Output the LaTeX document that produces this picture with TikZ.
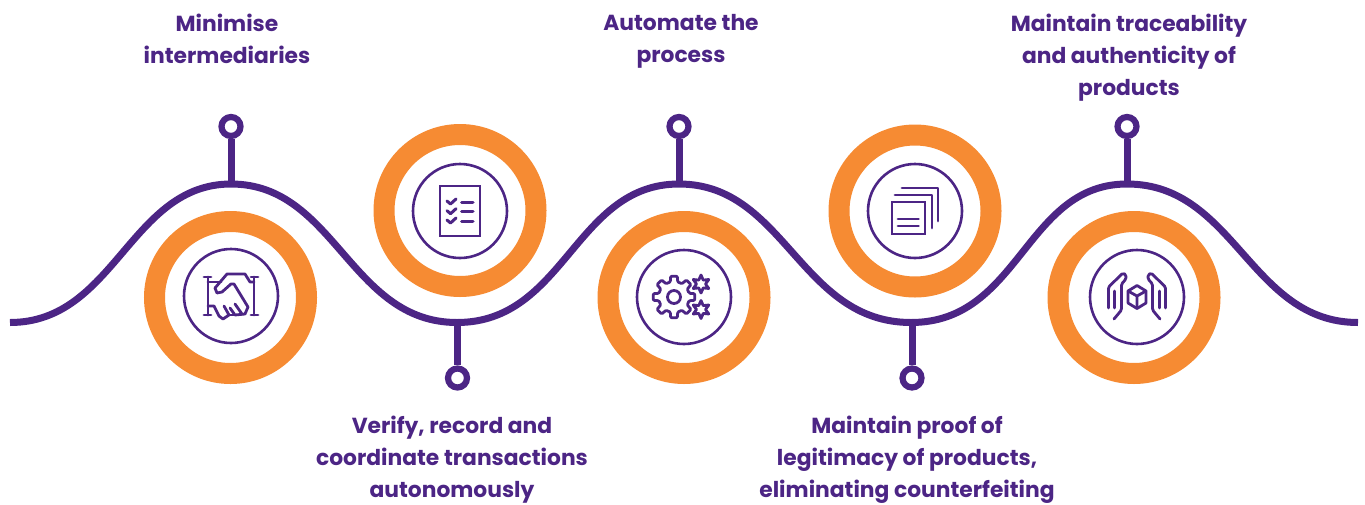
\documentclass[tikz,border=0pt]{standalone}
\usepackage{fontspec}
\setmainfont{Poppins}[BoldFont={Poppins Bold}]
\definecolor{wavepurple}{HTML}{4C2585}
\definecolor{ringorange}{HTML}{F68B33}
\tikzset{
  ring/.style={circle,draw=ringorange,line width=21pt,minimum size=152pt,inner sep=0pt,fill=white},
  iconring/.style={circle,draw=wavepurple,line width=2.6pt,minimum size=94pt,inner sep=0pt},
  pin/.style={circle,draw=wavepurple,line width=6.2pt,minimum size=19pt,inner sep=0pt,fill=white},
  stem/.style={draw=wavepurple,line width=7pt},
  wave/.style={draw=wavepurple,line width=7pt,line cap=butt},
  icon/.style={draw=wavepurple,line width=2.8pt,line cap=round,line join=round},
  label/.style={text=wavepurple,font=\bfseries\fontsize{21.8}{32}\selectfont,align=center,inner sep=0pt}
}
\begin{document}
\begin{tikzpicture}[x=1pt,y=-1pt]
\useasboundingbox (0,0) rectangle (1365,504);
% wave
\coordinate (start) at (10,322.5);
\coordinate (top1) at (231,184);
\coordinate (low1) at (457,322.5);
\coordinate (top2) at (679,184);
\coordinate (low2) at (911,322.5);
\coordinate (top3) at (1127,184);
\coordinate (finish) at (1358,322.5);
\draw[wave] (start) .. controls (115,322.5) and (130,184) .. (top1)
  .. controls (335,184) and (350,322.5) .. (low1)
  .. controls (565,322.5) and (575,184) .. (top2)
  .. controls (785,184) and (800,322.5) .. (low2)
  .. controls (1020,322.5) and (1025,184) .. (top3)
  .. controls (1235,184) and (1250,322.5) .. (finish);
% pins
\node[pin] (pin1) at (231,126.5) {};
\node[pin] (pin2) at (457.5,378) {};
\node[pin] (pin3) at (679,126.5) {};
\node[pin] (pin4) at (912,378) {};
\node[pin] (pin5) at (1127,126.5) {};
\draw[stem] (pin1) -- (top1);
\draw[stem] (pin2) -- (low1-|pin2);
\draw[stem] (pin3) -- (top2);
\draw[stem] (pin4) -- (low2-|pin4);
\draw[stem] (pin5) -- (top3);
% rings
\node[ring] (ringa) at (230.5,297.5) {};
\node[ring] (ringb) at (460,210.5) {};
\node[ring] (ringc) at (684,297.5) {};
\node[ring] (ringd) at (915,211) {};
\node[ring] (ringe) at (1134,297.5) {};
\node[iconring] (iconA) at (231,296) {};
\node[iconring] (iconB) at (460,211) {};
\node[iconring] (iconC) at (684,297) {};
\node[iconring] (iconD) at (915,211) {};
\node[iconring] (iconE) at (1137,297) {};
% handshake
\begin{scope}[shift={(iconA.center)},icon]
\draw (-27,-19)--(-20,-19) (-23,-19)--(-23,19) (-27,19)--(-20,19);
\draw (20,-19)--(27,-19) (23,-19)--(23,19) (20,19)--(27,19);
\draw (-23,-14)--(-10,-14);
\draw (23,-14)--(19,-14)--(14,-22)--(-4,-22)--(-16,-8)--(-14,-3)--(-9,-4)--(0,-12)--(3,-12)--(17,11)--(14,18)--(4,19)--(-1,12);
\draw (-23,10)--(-17,10)--(-12,20)--(-8,23)--(-2,19)--(-7,10);
\draw (-2,19)--(4,19);
\draw (11,18)--(4,8);
\end{scope}
% checklist
\begin{scope}[shift={(iconB.center)},icon]
\draw[line join=miter] (-20,-25) rectangle (20,25);
\foreach \yy in {-9,0.7,10}{
  \draw[line width=3pt] (-13,\yy-1)--(-9.5,\yy+2)--(-4,\yy-3);
  \draw[line width=3pt] (1.5,\yy)--(13,\yy);
}
\end{scope}
% gears
\begin{scope}[shift={(iconC.center)},icon]
\draw[rounded corners=1pt] ([shift={(-10,0)}]-14:15.5)
  \foreach \a in {0,45,...,315}{
    -- ([shift={(-10,0)}]\a-14:15.5) -- ([shift={(-10,0)}]\a-9:21) -- ([shift={(-10,0)}]\a+9:21) -- ([shift={(-10,0)}]\a+14:15.5)
  } -- cycle;
\draw (-10,0) circle (6.5);
\foreach \cy in {-13,12.5}{
  \draw ([shift={(17,\cy)}]30:9)
    \foreach \a in {30,90,...,330}{
      -- ([shift={(17,\cy)}]\a:9) -- ([shift={(17,\cy)}]\a+30:4.5)
    } -- cycle;
}
\end{scope}
% documents
\begin{scope}[shift={(iconD.center)},icon]
\draw[line join=miter] (-23,-9) rectangle (10,23);
\draw (-17,8)--(3.5,8) (-17,15)--(3.5,15);
\draw (-20,-16)--(17,-16)--(17,17);
\draw (-13,-23)--(23,-23)--(23,10);
\end{scope}
% hands and cube
\begin{scope}[shift={(iconE.center)},icon]
\draw (0,-11.5)--(9,-6)--(9,6)--(0,11.5)--(-9,6)--(-9,-6)--cycle;
\draw (-9,-6)--(0,-1)--(9,-6) (0,-1)--(0,11.5);
\foreach \s in {-1,1}{
  \begin{scope}[xscale=\s]
  \draw[rounded corners=1.5pt] (28.5,11)--(28.5,-10)--(14,-24)--(11,-22)--(11,-18)--(15.5,-13)--(15.5,13)--(23,22);
  \draw (22.5,-6)--(22.5,11);
  \end{scope}
}
\end{scope}
% labels
\node[label] (la) at (227,39) {Minimise\\intermediaries};
\node[label] (lb) at (452,459.5) {Verify, record and\\coordinate transactions\\autonomously};
\node[label] (lc) at (681,41.5) {Automate the\\process};
\node[label] (ld) at (907,459.5) {Maintain proof of\\legitimacy of products,\\eliminating counterfeiting};
\node[label] (le) at (1129,57.5) {Maintain traceability\\and authenticity of\\products};
\end{tikzpicture}
\end{document}
